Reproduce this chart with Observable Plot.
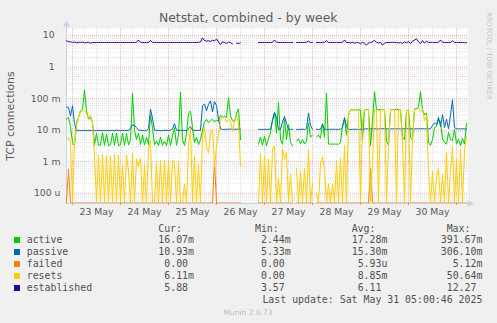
<!DOCTYPE html>
<html><head><meta charset="utf-8">
<script src="https://cdn.jsdelivr.net/npm/d3@7"></script>
<script src="https://cdn.jsdelivr.net/npm/@observablehq/plot@0.6"></script>
<style>
html,body{margin:0;padding:0;background:#f0f0f0;}
#root{position:relative;width:497px;height:323px;overflow:hidden;background:#f0f0f0;}
#root svg{position:absolute;left:0;top:0;}
.t{position:absolute;white-space:pre;line-height:1;}
</style></head><body><div id="root"></div>
<script>
// ---------- data (hourly samples from 22 May 21:00 UTC) ----------
const established = [
 6.8,6.3,6.4,6.0,6.2,5.9,6.1,6.0,6.2,5.8,
 6.0,6.1,5.7,6.0,6.0,6.0,6.0,6.0,6.0,6.0,
 6.0,6.0,6.0,6.0,6.0,6.0,6.0,6.0,6.0,6.0,
 6.0,6.0,6.0,6.0,6.0,6.1,7.2,6.1,6.0,6.0,
 6.0,6.1,6.9,6.1,6.0,6.0,6.0,6.0,6.0,6.0,
 6.0,6.0,6.0,6.0,6.0,6.0,6.0,6.0,6.0,6.0,
 6.0,6.0,6.0,6.0,6.0,6.0,6.1,6.2,8.4,6.9,
 6.6,6.8,6.5,7.1,6.7,7.8,6.2,5.1,6.3,6.0,
 5.6,6.2,5.9,5.4,null,5.8,5.5,5.9,null,null,
 null,null,null,null,null,null,6.0,6.0,6.0,6.0,
 6.0,6.0,6.0,6.1,7.2,6.1,6.0,6.0,6.0,6.0,
 6.0,6.0,6.0,6.0,null,6.0,6.0,6.0,6.0,6.0,
 6.1,6.6,6.0,6.0,null,6.0,6.0,6.0,6.0,6.1,
 6.8,6.0,6.0,6.0,6.0,6.0,6.0,6.0,6.1,7.2,
 6.0,6.0,5.8,6.1,5.7,6.0,5.9,5.5,6.1,5.6,
 5.0,5.7,6.0,6.3,7.0,6.0,5.8,6.1,5.0,5.7,
 6.0,6.0,6.0,6.1,6.0,6.0,5.8,6.0,5.6,6.3,
 5.9,6.4,5.5,6.6,7.1,7.8,6.3,5.6,6.9,5.7,
 6.6,6.0,6.1,6.0,6.0,6.0,6.1,7.2,6.1,6.0,
 6.0,6.0,6.0,6.8,6.0,6.0,6.0,6.0,6.0,5.9,
 5.88
];
// the following four series are in milli-connections
const passiveMilli = [
 55,52,28,59,16,9.5,9.7,9.6,9.8,9.7,
 9.6,9.8,9.7,9.9,9.6,9.7,9.8,9.6,9.7,9.8,
 9.7,9.6,9.8,9.7,9.6,9.9,9.7,9.6,9.8,9.7,
 9.8,9.7,11,15,14,12,10,9.8,9.7,9.6,
 9.8,11,46,24,10,9.7,9.8,9.6,9.7,9.9,
 9.8,9.7,10,11,16,10,9.8,9.7,9.9,9.8,
 9.7,11,13,10,9.8,9.7,9.8,9.9,59,67,
 41,66,85,38,80,60,22,11,10.5,10.6,
 10.7,10.6,10.8,10.7,10.6,10.7,10.8,10.6,null,null,
 null,null,null,null,null,null,10.5,10.6,10.5,10.6,
 10.5,10.6,10.7,20,36,24,10.6,10.5,18,27,
 16,10.7,10.6,10.5,null,10.6,10.5,10.6,10.7,10.5,
 11,35,14,10.6,null,10.6,10.5,10.7,15,10.6,
 10.6,10.5,10.6,10.7,10.6,10.5,10.6,10.7,12,25,
 13,10.6,10.5,10.6,10.7,10.6,10.5,10.6,10.7,10.8,
 11,10.9,11,11.1,11,10.9,11,11,11.1,11,
 11,11,10.9,11,11.1,11,11,10.9,11,11,
 11,11.1,11,11,10.9,11,11,11.1,11,11,
 11,11,11,14,17,15,25,13,31,12,
 22,11,30,92,12,11,10.9,11,11,11,
 10.93
];
const activeMilli = [
 22,25,13,4,3.2,17,25,41,46,190,
 41,22,25,18,3.3,8,3.3,3.4,8.5,3.3,
 7.5,3.2,3.4,8,3.3,8.2,3.2,3.5,8,3.3,
 7.8,3.4,5,150,10,5,8,3.5,7,3.4,
 6,3.5,30,12,3.4,4.5,3.2,6,3.3,4.5,
 3.2,7,3.3,6.5,12,3.3,7,160,5,3.3,
 8,35,40,12,4,6,3.5,5,10,18,
 22,17,20,22,18,21,19,30,25,28,
 25,110,28,20,18,35,47,5,null,null,
 null,null,null,null,null,null,3.6,6,3.3,6.5,
 3.2,5.5,8,22,36,8,75,5,3.5,22,
 5,15,4,3.2,null,4.5,5.3,3.7,5,3.6,
 4.5,17,6,7,null,6,7,5.5,16,6,
 150,3.6,3.6,3.6,3.6,3.6,3.6,4,14,22,
 7,30,44,44,44,44,44,43,5,44,
 45,45,3.2,20,165,45,44,45,45,44,
 4.5,3.2,44,45,45,45,45,44,6,5,
 40,45,6,5,46,48,55,165,45,30,
 35,4,3.3,5,12,13,22,18,5.3,4,
 3.6,8.4,5,4.6,10.7,3.6,5.2,3.2,5.5,3.6,
 16.07
];
const resetsMilli = [
 5.2,5.7,4,0,4,14,25,38,42,40,
 35,22,30,18,1.5,0,1.6,0,1.7,0,
 1.6,0,1.5,0,1.7,0,1.6,0,0.8,0,
 1.6,0.5,0,1.9,0,1.2,0.7,1.3,0,0.8,
 0,2.5,4.6,0,0,0.9,0,1.1,0,1.1,
 0,1.0,0,1.1,0.9,0,1.0,0,0,0.2,
 0,3,12,0,1.5,0,0.8,0,6.6,12,
 3,1.9,8,10.7,0.7,3,7,20,28,25,
 18,22,20,9,20,30,18,0.7,null,null,
 null,null,null,null,null,null,0,1.8,0,1.5,
 0,1.2,0,2.5,3.2,0,0.3,0,2.5,1.2,
 2,0,0.4,0,null,0.6,0,0.5,0,0.6,
 0,2.5,0,0.2,null,0.1,0,0.9,1.4,0.6,
 0,0.2,0,0.2,0,1,0,1.3,0,3.2,
 0,30,44,44,44,44,44,0,20,44,
 44,44,0,1,44,44,0,44,44,44,
 0,3,44,44,45,0,44,44,4,0,
 40,45,0,5,44,45,50,40,45,20,
 30,0.5,0,0.5,0,0.3,0.6,0,0.4,0,
 2,0,0.5,3,0,1.2,0,2.5,0,2.2,
 6.11
];
const failedMilli = [
 0,0.58,0,0,0,0,0,0,0,0, 0,0,0,0,0,0,0,0,0,0,
 0,0,0,0,0,0,0,0,0,0, 0,0,0,0,0,0,0,0,0,0,
 0,0,0,0,0,0,0,0,0,0, 0,0,0,0,0,0,0,0,0,0,
 0,0,0,0,0,0,0,0,0,0, 0,0,0,0,1.1,0,0,0,0,0,
 0,0,0,0,0,0,0,0,null,null, null,null,null,null,null,null,0,0,0,0,
 0,0,0,0,0,0,0,0,0,0, 0,0,0,0,null,0,0,0,0,0,
 0,0,0,0,null,0,0,0,0,0, 0,0,0,0,0,0,0,0,0,0,
 0,0,0,0,0,0,0,0,0,0, 0,0,0.6,0,0,0,0,0,0,0,
 0,0,0,0,0,0,0,0,0,0, 0,0,0,0,0,0,0,0,0,0,
 0,0,0,0,0,0,0,0,0,0, 0,0,0,0,0,0,0,0,0,0,
 0
];

const seriesNames  = ["active","passive","failed","resets","established"];
const seriesColors = ["#00CC00","#0066B3","#FF8000","#FFCC00","#330099"];
const curLabels = ["16.07m","10.93m","0.00","6.11m","5.88"];
const minLabels = ["2.44m","5.33m","0.00","0.00","3.57"];
const avgLabels = ["17.28m","15.30m","5.93u","8.85m","6.11"];
const maxLabels = ["391.67m","306.10m","5.12m","50.64m","12.27"];

const dayLabels = ["23 May","24 May","25 May","26 May","27 May","28 May","29 May","30 May"];
const yTickValues = [1e-4, 1e-3, 1e-2, 1e-1, 1, 10];
const yTickLabels = ["100 u","1 m","10 m","100 m","1\u00a0\u00a0","10\u00a0\u00a0"];

const titleText = "Netstat, combined - by week";
const yTitle = "TCP connections";
const lastUpdate = "Last update: Sat May 31 05:00:46 2025";
const footer = "Munin 2.0.73";
const sideText = "RRDTOOL / TOBI OETIKER";

// ---------- build ----------
const HOUR = 3600e3;
const start = Date.UTC(2025, 4, 22, 21);
const end = start + 200.5 * HOUR;
const LO = 4.71e-5, HI = 16.67, FLOOR = 4.9e-5;
const milli = a => a.map(v => v == null ? null : v / 1000);
const table = a => a.map((v, i) => ({t: new Date(start + i * HOUR), v}));
const seriesData = [milli(activeMilli), milli(passiveMilli), milli(failedMilli), milli(resetsMilli), established].map(table);
const yv = d => d.v == null ? NaN : (d.v > 0 ? d.v : FLOOR);

const minorY = [];
for (let e = -5; e <= 1; e++) for (let k = 2; k <= 9; k++) { const v = k * Math.pow(10, e); if (v > LO && v < HI) minorY.push(v); }
const midnights = [];
for (let d = 23; d <= 31; d++) midnights.push(new Date(Date.UTC(2025, 4, d)));
const sixHours = [];
for (let d = 23; d <= 30; d++) for (const h of [6, 12, 18]) sixHours.push(new Date(Date.UTC(2025, 4, d, h)));
const noons = dayLabels.map((_, i) => new Date(Date.UTC(2025, 4, 23 + i, 12)));
const yLab = new Map(yTickValues.map((v, i) => [v, yTickLabels[i]]));
const xLab = new Map(noons.map((d, i) => [+d, dayLabels[i]]));

const axisC = "#c9d0ea";
const grid = "#e0e0e0", mgrid = "#f0b6b6";
const yTip = Math.pow(10, Math.log10(LO) + (203 - 21) / 31.54);
const yTri = Math.pow(10, Math.log10(LO) + (203 - 24) / 31.54);
const xTip = new Date(start + 203 * HOUR);
const xTri = new Date(start + 201.5 * HOUR);

const marks = [
  Plot.frame({fill: "white", stroke: null}),
  Plot.ruleY(minorY, {stroke: grid, strokeDasharray: "1,1"}),
  Plot.ruleX(sixHours, {stroke: grid, strokeDasharray: "1,1"}),
  Plot.ruleY(yTickValues, {stroke: mgrid, strokeDasharray: "1,1"}),
  Plot.ruleX(midnights, {stroke: mgrid, strokeDasharray: "1,1"}),
  Plot.ruleX([0], {x: new Date(start), y1: LO, y2: yTip, stroke: axisC}),
  Plot.ruleY([0], {y: LO, x1: new Date(start), x2: xTip, stroke: axisC}),
  Plot.dot([0], {x: new Date(start), y: yTri, symbol: "triangle", r: 2.6, fill: axisC, stroke: null}),
  Plot.dot([0], {x: xTri, y: LO, symbol: "triangle", r: 2.6, fill: axisC, stroke: null, rotate: 90}),
];
seriesData.forEach((data, k) => {
  marks.push(Plot.line(data, {x: "t", y: yv, stroke: seriesColors[k], strokeWidth: 1, clip: true}));
});
marks.push(
  Plot.axisY({ticks: yTickValues, tickFormat: d => yLab.get(d), tickSize: 0, tickPadding: 6, label: null}),
  Plot.axisX({ticks: noons, tickFormat: d => xLab.get(+d), tickSize: 0, tickPadding: 5, label: null}),
  Plot.axisX({ticks: midnights, tickFormat: () => "", tickSize: 2, stroke: "#e48a8a", label: null})
);

const chart = Plot.plot({
  width: 497, height: 222,
  marginLeft: 66, marginRight: 30, marginTop: 28, marginBottom: 19,
  x: {type: "utc", domain: [new Date(start), new Date(end)]},
  y: {type: "log", domain: [LO, HI]},
  style: {background: "transparent", overflow: "visible", fontFamily: "'DejaVu Sans', sans-serif", fontSize: "9.3px", color: "#5a5a5a"},
  marks
});

const root = document.getElementById("root");
root.appendChild(chart);

function txt(s, o) {
  const el = document.createElement("div");
  el.className = "t";
  el.textContent = s;
  el.style.fontFamily = o.mono ? "'DejaVu Sans Mono', monospace" : "'DejaVu Sans', sans-serif";
  el.style.fontSize = o.size + "px";
  el.style.color = o.color || "#505050";
  el.style.top = (o.base - 0.846 * o.size) + "px";
  if (o.right != null) el.style.right = (497 - o.right) + "px";
  else el.style.left = o.left + "px";
  if (o.transform) el.style.transform = o.transform;
  root.appendChild(el);
  return el;
}
// title
const tEl = txt(titleText, {size: 12.4, base: 22.5, left: 248.2, color: "#5e5e5e"});
tEl.style.transform = "translateX(-50%)";
// y title
const yt = document.createElement("div");
yt.className = "t"; yt.textContent = yTitle;
Object.assign(yt.style, {fontFamily: "'DejaVu Sans', sans-serif", fontSize: "10.9px", color: "#5a5a5a",
  left: "11px", top: "115.5px", transform: "translate(-50%,-50%) rotate(-90deg)"});
root.appendChild(yt);
// side text
const st = document.createElement("div");
st.className = "t"; st.textContent = sideText;
Object.assign(st.style, {fontFamily: "'DejaVu Sans', sans-serif", fontSize: "6.8px", color: "#c4c4c4",
  left: "488.5px", top: "56px", transform: "translate(-50%,-50%) rotate(90deg)"});
root.appendChild(st);

// legend
const cw = 5.96;
const headers = ["Cur:", "Min:", "Avg:", "Max:"];
const colRight = [194.0, 290.7, 387.4, 482.4];
headers.forEach((h, j) => txt(h, {mono: true, size: 9.9, base: 231.9, left: colRight[j] - 6 * cw}));
const cols = [curLabels, minLabels, avgLabels, maxLabels];
seriesNames.forEach((n, k) => {
  const cy = 239.7 + 12 * k;
  const sq = document.createElement("div");
  Object.assign(sq.style, {position: "absolute", left: "14px", top: (cy - 3) + "px", width: "6px", height: "6px", background: seriesColors[k]});
  root.appendChild(sq);
  txt(n, {mono: true, size: 9.9, base: cy + 3.6, left: 26.7});
  cols.forEach((c, j) => {
    const s = c[k];
    const padded = /[0-9]$/.test(s) ? s + " " : s;
    txt(padded, {mono: true, size: 9.9, base: cy + 3.6, right: colRight[j]});
  });
});
txt(lastUpdate, {mono: true, size: 9.9, base: 303.3, right: 482.4});
const ft = txt(footer, {size: 7.5, base: 315, left: 248, color: "#bdbdbd"});
ft.style.transform = "translateX(-50%)";
</script>
</body></html>
